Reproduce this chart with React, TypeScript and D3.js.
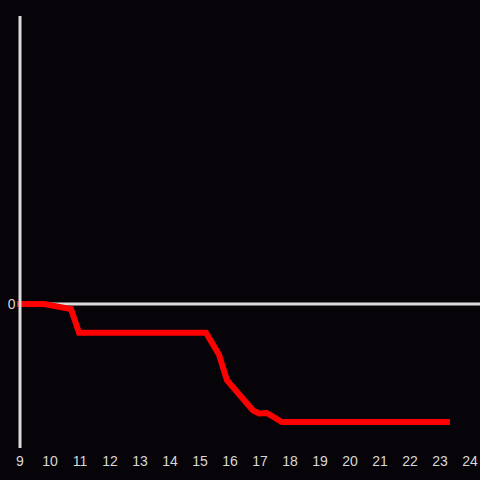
import React from "react";
import * as d3 from "d3";

const xTicks = [9, 10, 11, 12, 13, 14, 15, 16, 17, 18, 19, 20, 21, 22, 23, 24];
const hours = [9, 9.8, 10.7, 10.97, 15.2, 15.63, 15.9, 16.77, 16.97, 17.23, 17.73, 23.23];
const values = [0, 0, -0.035, -0.2, -0.2, -0.35, -0.53, -0.74, -0.76, -0.757, -0.82, -0.82];
const yTickValues = [0];

const W = 480;
const H = 480;

export default function App() {
  const x = d3.scaleLinear().domain([9, 24]).range([20, 470]);
  const y = d3.scaleLinear().domain([-1, 2]).range([448, 16]);
  const pts: [number, number][] = hours.map((h, i) => [h, values[i]]);
  const line = d3
    .line<[number, number]>()
    .x((d) => x(d[0]))
    .y((d) => y(d[1]));
  const textColor = "#d8d8d8";
  return (
    <svg
      width={W}
      height={H}
      style={{ position: "fixed", left: 0, top: 0, background: "#060408" }}
    >
      <rect x={0} y={0} width={W} height={H} fill="#060408" />
      <line x1={x(9)} x2={480} y1={y(0)} y2={y(0)} stroke="#dcdcdc" strokeWidth={3} />
      <path
        d={line(pts) || ""}
        fill="none"
        stroke="#ff0000"
        strokeWidth={6}
        strokeLinecap="square"
        strokeLinejoin="miter"
      />
      <line x1={x(9)} x2={x(9)} y1={y(2)} y2={y(-1)} stroke="#dcdcdc" strokeWidth={3} />
      {xTicks.map((t) => (
        <text
          key={t}
          x={x(t)}
          y={466}
          textAnchor="middle"
          fontFamily="Liberation Sans, Arial, sans-serif"
          fontSize={14}
          fill={textColor}
        >
          {t}
        </text>
      ))}
      {yTickValues.map((v) => (
        <text
          key={v}
          x={15.5}
          y={y(v)}
          textAnchor="end"
          dominantBaseline="central"
          fontFamily="Liberation Sans, Arial, sans-serif"
          fontSize={14}
          fill={textColor}
        >
          {v}
        </text>
      ))}
    </svg>
  );
}
